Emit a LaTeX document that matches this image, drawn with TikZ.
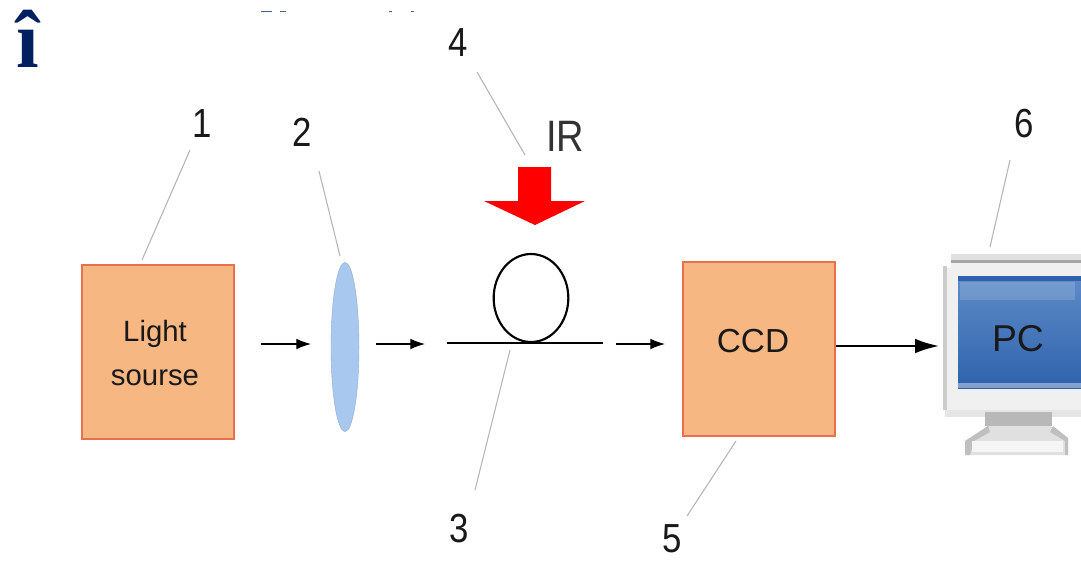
\documentclass[tikz,border=0pt]{standalone}
\usepackage{fontspec}
\setmainfont{Liberation Sans}
\newfontfamily\serifb{Liberation Serif}
\usetikzlibrary{arrows.meta,calc,shapes.geometric}
\definecolor{boxfill}{HTML}{F6B783}
\definecolor{boxline}{HTML}{E8704F}
\definecolor{lensfill}{HTML}{A9C8F0}
\definecolor{navy}{HTML}{002060}
\definecolor{leader}{HTML}{B5B5B5}
\definecolor{scrtop}{HTML}{5F8CC8}
\definecolor{scrbot}{HTML}{2F62AC}
\tikzset{
  box/.style={draw=boxline,fill=boxfill,line width=1.6pt,inner sep=0pt,align=center},
  boxtext/.style={inner sep=0pt,align=center,text=black!90},
  num/.style={inner sep=0pt,font=\fontsize{29}{29}\selectfont,text=black!90,xscale=.9,yscale=1.05},
  lead/.style={draw=leader,line width=0.8pt},
  flow/.style={draw=black,line width=0.9pt,-{Latex[length=11pt,width=8pt]}},
  flowb/.style={draw=black,line width=1.5pt,-{Latex[length=18pt,width=11pt]}},
  fibre/.style={draw=black,line width=1.3pt},
}
\begin{document}
\begin{tikzpicture}[x=0.75pt,y=-0.75pt]
\useasboundingbox (0,0) rectangle (1081,561);
\fill[white] (0,0) rectangle (1081,561);
% clipped title remnants
\foreach \a/\b in {261/272,280/286,389/392,411/414}{\fill[navy!70] (\a,10.5) rectangle (\b,12);}
\node[inner sep=0pt,text=navy,font={\serifb\bfseries\fontsize{61}{61}\selectfont}] (bullet) at (28,39) {î};
% light source
\node[box,minimum width=114pt,minimum height=131pt] (src) at (158,352) {};
\node[boxtext,font=\fontsize{22}{33}\selectfont] (srct) at (155,353) {Light\\sourse};
% lens
\node[draw=lensfill!85!black,fill=lensfill,line width=.3pt,ellipse,minimum width=21pt,minimum height=127pt,inner sep=0pt] (lens) at (345,347) {};
% CCD
\node[box,minimum width=114.5pt,minimum height=131pt] (ccd) at (759,349) {};
\node[boxtext,font=\fontsize{25}{25}\selectfont] (ccdt) at (753,341) {CCD};
% fibre
\coordinate (fa) at (447,343);
\coordinate (fb) at (603,343);
\draw[fibre] (fa) -- (fb);
\node[draw=black,line width=1.6pt,ellipse,minimum width=56pt,minimum height=66pt,inner sep=0pt] (loop) at (531,298) {};
% IR arrow
\fill[red] (518,167) -- (551,167) -- (551,201) -- (585,201) -- (535,225) -- (484,201) -- (518,201) -- cycle;
\node[inner sep=0pt,font=\fontsize{30}{30}\selectfont,text=black!80,xscale=.95,yscale=1.1] (ir) at (565,136) {IR};
% PC
\coordinate (pcl) at (939,346);
\fill[black!6] (945,268) rectangle (1081,410);
\fill[black!12] (951,254) rectangle (1081,262);
\fill[black!35] (951,260) rectangle (1081,263);
\fill[black!6] (951,263) rectangle (1081,270);
\fill[black!20] (943,266) rectangle (947,410);
\fill[black!10] (945,410) rectangle (1081,417);
\fill[black!28] (985,412) rectangle (1052,426);
\fill[black!12] (988,426) -- (1050,426) -- (1068,438) -- (1068,455) -- (965,455) -- (965,443) -- cycle;
\fill[black!25] (965,441) -- (988,426) -- (990,432) -- (974,441) -- (970,455) -- (965,455) -- cycle;
\fill[black!25] (1053,426) -- (1068,438) -- (1068,455) -- (1065,455) -- (1065,441) -- (1050,432) -- cycle;
\fill[black!4] (972,441) rectangle (1063,452);
\shade[top color=scrtop,bottom color=scrbot] (958,276) rectangle (1081,388);
\fill[scrbot] (958,276) rectangle (1081,281);
\fill[white,opacity=.15] (960,282) rectangle (1075,300);
\fill[white,opacity=.4] (958,383) rectangle (1081,388);
\node[inner sep=0pt,font=\fontsize{28}{28}\selectfont,text=black!90] (pc) at (1018,339) {PC};
% flow arrows
\coordinate (a1) at (261,344); \coordinate (a1e) at (311,344);
\coordinate (a2) at (376,344); \coordinate (a2e) at (425,344);
\coordinate (a3) at (616,344); \coordinate (a3e) at (665,344);
\draw[flow] (a1) -- (a1e);
\draw[flow] (a2) -- (a2e);
\draw[flow] (a3) -- (a3e);
\draw[flowb] (ccd.east |- pcl) -- (pcl);
% numbers
\node[num] (n1) at (202,124) {1};
\node[num] (n2) at (302,132) {2};
\node[num] (n3) at (459,529) {3};
\node[num] (n4) at (458,43) {4};
\node[num] (n5) at (672,539) {5};
\node[num] (n6) at (1024,124) {6};
% leaders
\coordinate (l1a) at (190,150); \coordinate (l1b) at (142,260);
\coordinate (l2a) at (319,171); \coordinate (l2b) at (340,256);
\coordinate (l3a) at (510,350); \coordinate (l3b) at (475,490);
\coordinate (l4a) at (477,72); \coordinate (l4b) at (525,155);
\coordinate (l5a) at (736,441); \coordinate (l5b) at (687,516);
\coordinate (l6a) at (1010,160); \coordinate (l6b) at (990,247);
\draw[lead] (l1a) -- (l1b);
\draw[lead] (l2a) -- (l2b);
\draw[lead] (l3a) -- (l3b);
\draw[lead] (l4a) -- (l4b);
\draw[lead] (l5a) -- (l5b);
\draw[lead] (l6a) -- (l6b);
\end{tikzpicture}
\end{document}
